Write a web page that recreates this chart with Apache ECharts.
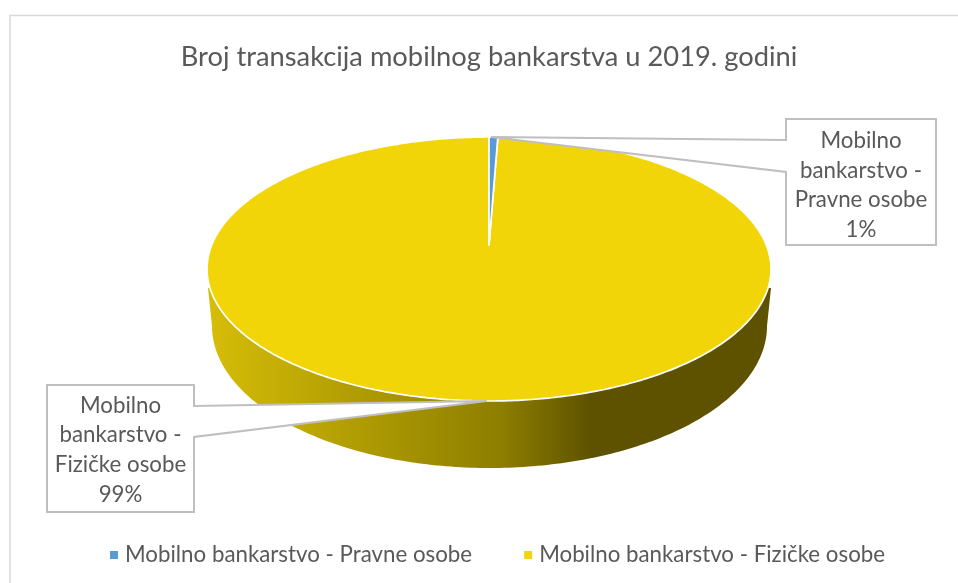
<!DOCTYPE html>
<html><head><meta charset="utf-8">
<style>html,body{margin:0;padding:0;background:#fff}#c{width:958px;height:583px}</style>
<script src="https://cdn.jsdelivr.net/npm/echarts@6/dist/echarts.min.js"></script>
</head><body><div id="c"></div>
<script>
const titleText = 'Broj transakcija mobilnog bankarstva u 2019. godini';
const categories = ['Mobilno bankarstvo - Pravne osobe', 'Mobilno bankarstvo - Fizičke osobe'];
const labelLines = [['Mobilno', 'bankarstvo -', 'Pravne osobe'], ['Mobilno', 'bankarstvo -', 'Fizičke osobe']];
const values = [0.6, 99.4];
const colors = ['#5B9BD5', '#F2D508'];

const total = values.reduce((a, b) => a + b, 0);
const FONT = 'Lato, Carlito, sans-serif';
const TEXT = '#595959';
const LINE = '#BFBFBF';

// perspective disc layout
const disc = { cx: 489, cy: 245, top: 137, bottom: 401, halfW: 282 };
const dN = disc.cy - disc.top, dF = disc.bottom - disc.cy;
const k = (dF - dN) / (dF + dN);
const ry = dN * (1 + k);
const rx = disc.halfW * Math.sqrt(1 - k * k);
function project(theta) {
  const u = Math.sin(theta), v = -Math.cos(theta), w = 1 - k * v;
  return [disc.cx + rx * u / w, disc.cy + ry * v / w];
}
function slicePoints(a0, a1) {
  const pts = [[disc.cx, disc.cy]];
  const n = Math.max(2, Math.ceil((a1 - a0) / 0.01));
  for (let i = 0; i <= n; i++) pts.push(project(a0 + (a1 - a0) * i / n));
  return pts;
}
// wall layout
const wall = { topY: 288, shoulderY: 326, bottomY: 468, leftTop: 208, rightTop: 771, left: 212, right: 767 };
function wallPoints() {
  const pts = [[wall.leftTop, wall.topY]];
  const a = (wall.right - wall.left) / 2, b = wall.bottomY - wall.shoulderY, c = (wall.right + wall.left) / 2;
  for (let i = 0; i <= 180; i++) {
    const t = Math.PI - Math.PI * i / 180;
    pts.push([c + a * Math.cos(t), wall.shoulderY + b * Math.sin(t)]);
  }
  pts.push([wall.rightTop, wall.topY]);
  return pts;
}
// callout layouts
const boxes = [
  { x0: 786, y0: 119, x1: 936, y1: 245, side: 'left', p0: 140, p1: 172, textDy: 3.5, tipDx: -2.5 },
  { x0: 47, y0: 385, x1: 194, y1: 512, side: 'right', p0: 406, p1: 437, textDy: 1.5, tipDx: 4 }
];
function callout(i, tip) {
  const b = boxes[i];
  const t = [tip[0] + b.tipDx, tip[1]];
  const pts = b.side === 'left'
    ? [[b.x0, b.y0], [b.x1, b.y0], [b.x1, b.y1], [b.x0, b.y1], [b.x0, b.p1], t, [b.x0, b.p0]]
    : [[b.x0, b.y0], [b.x1, b.y0], [b.x1, b.p0], t, [b.x1, b.p1], [b.x1, b.y1], [b.x0, b.y1]];
  const pct = Math.round(values[i] / total * 100);
  const text = labelLines[i].concat([Math.max(1, pct) + '%']).join('\n');
  return [
    { type: 'polygon', shape: { points: pts }, z2: 20,
      style: { fill: '#fff', stroke: LINE, lineWidth: 2 } },
    { type: 'text', z2: 21, x: (b.x0 + b.x1) / 2, y: (b.y0 + b.y1) / 2 + b.textDy,
      style: { text, fill: TEXT, font: '22.3px ' + FONT, lineHeight: 29.6, align: 'center', verticalAlign: 'middle' } }
  ];
}
function angleRange(i) {
  let s = 0;
  for (let j = 0; j < i; j++) s += values[j];
  return [s / total * 2 * Math.PI, (s + values[i]) / total * 2 * Math.PI];
}
function renderSlice(i) {
  return function () {
    const [a0, a1] = angleRange(i);
    const children = [];
    if (i === 1) {
      children.push({ type: 'polygon', shape: { points: wallPoints() }, z2: 1,
        style: { fill: new echarts.graphic.LinearGradient(wall.leftTop, 0, wall.rightTop, 0, [
          { offset: 0, color: '#D6BD08' }, { offset: 0.3, color: '#AB9802' },
          { offset: 0.52, color: '#8E7E00' }, { offset: 0.68, color: '#5E5200' }, { offset: 1, color: '#5E5200' }
        ], true) } });
    }
    children.push({ type: 'polygon', shape: { points: slicePoints(a0, a1) }, z2: 5 + i,
      style: { fill: colors[i], stroke: '#fff', lineWidth: 1.7, lineJoin: 'round' } });
    children.push(...callout(i, project((a0 + a1) / 2)));
    return { type: 'group', children };
  };
}
const chart = echarts.init(document.getElementById('c'), null, { renderer: 'canvas' });
chart.setOption({
  animation: false,
  backgroundColor: '#fff',
  title: { text: titleText, left: 484, top: 39, textAlign: 'center',
    textStyle: { color: TEXT, fontFamily: FONT, fontSize: 27.3, fontWeight: 'normal' } },
  legend: { data: categories, left: 105, top: 539, icon: 'rect', itemWidth: 8, itemHeight: 8, itemGap: 52,
    textStyle: { color: TEXT, fontFamily: FONT, fontSize: 22.3, padding: [0, 0, 0, 2] } },
  graphic: [{ type: 'polyline', z: -1, shape: { points: [[10, 583], [10, 15.5], [958, 15.5]] },
    style: { fill: null, stroke: '#D9D9D9', lineWidth: 1.5 } }],
  series: categories.map((name, i) => ({
    type: 'custom', name, coordinateSystem: 'none', z: i === 1 ? 2 : 3,
    itemStyle: { color: colors[i] }, data: [values[i]], renderItem: renderSlice(i), silent: true
  }))
});
</script></body></html>
